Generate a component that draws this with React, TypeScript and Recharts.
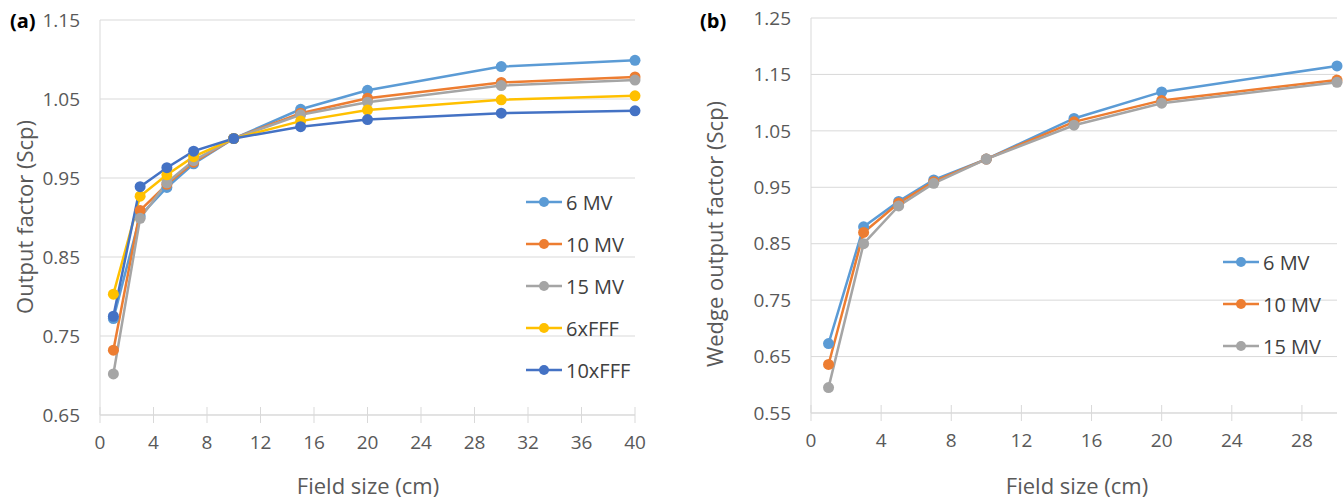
import React from 'react';
import { LineChart, Line, XAxis, YAxis, CartesianGrid } from 'recharts';

// panel (a): output factor vs field size
const fieldSizesA = [1, 3, 5, 7, 10, 15, 20, 30, 40];
const mv6A = [0.772, 0.902, 0.938, 0.968, 1.0, 1.037, 1.061, 1.091, 1.099];
const mv10A = [0.732, 0.909, 0.942, 0.970, 1.0, 1.032, 1.051, 1.071, 1.078];
const mv15A = [0.702, 0.899, 0.944, 0.972, 1.0, 1.030, 1.046, 1.067, 1.074];
const fff6A = [0.803, 0.927, 0.954, 0.977, 1.0, 1.022, 1.036, 1.049, 1.054];
const fff10A = [0.775, 0.939, 0.963, 0.984, 1.0, 1.015, 1.024, 1.032, 1.035];
const xTicksA = [0, 4, 8, 12, 16, 20, 24, 28, 32, 36, 40];
const yTicksA = [0.65, 0.75, 0.85, 0.95, 1.05, 1.15];

// panel (b): wedge output factor vs field size
const fieldSizesB = [1, 3, 5, 7, 10, 15, 20, 30];
const mv6B = [0.673, 0.880, 0.925, 0.963, 1.0, 1.072, 1.119, 1.165];
const mv10B = [0.636, 0.870, 0.922, 0.960, 1.0, 1.066, 1.104, 1.140];
const mv15B = [0.595, 0.850, 0.917, 0.957, 1.0, 1.060, 1.099, 1.136];
const xTicksB = [0, 4, 8, 12, 16, 20, 24, 28];
const yTicksB = [0.55, 0.65, 0.75, 0.85, 0.95, 1.05, 1.15, 1.25];

const seriesA = [
  { key: 'mv6', name: '6 MV', color: '#5B9BD5' },
  { key: 'mv10', name: '10 MV', color: '#ED7D31' },
  { key: 'mv15', name: '15 MV', color: '#A5A5A5' },
  { key: 'fff6', name: '6xFFF', color: '#FFC000' },
  { key: 'fff10', name: '10xFFF', color: '#4472C4' },
];
const seriesB = seriesA.slice(0, 3);

const dataA = fieldSizesA.map((x, i) => ({
  x,
  mv6: mv6A[i],
  mv10: mv10A[i],
  mv15: mv15A[i],
  fff6: fff6A[i],
  fff10: fff10A[i],
}));
const dataB = fieldSizesB.map((x, i) => ({ x, mv6: mv6B[i], mv10: mv10B[i], mv15: mv15B[i] }));

const FONT = '"Open Sans", "Noto Sans", sans-serif';
const GRID = '#d9d9d9';
const TXT = '#595959';

const XTick = (props: any) => {
  const { x, y, payload } = props;
  return (
    <g>
      <line x1={x} x2={x} y1={y - 8} y2={y + 8} stroke={GRID} strokeWidth={1} />
      <text x={x} y={y + 27} textAnchor="middle" dominantBaseline="central" fill={TXT} fontSize={19} fontFamily={FONT}>
        {payload.value}
      </text>
    </g>
  );
};

const fmt = (v: number) => v.toFixed(2);

function LegendBox({ items, left, top }: { items: typeof seriesA; left: number; top: number }) {
  return (
    <div style={{ position: 'absolute', left, top }}>
      {items.map((s) => (
        <div key={s.key} style={{ display: 'flex', alignItems: 'center', height: 42 }}>
          <svg width={38} height={14}>
            <line x1={1} x2={37} y1={7} y2={7} stroke={s.color} strokeWidth={2.5} />
            <circle cx={19} cy={7} r={5} fill={s.color} />
          </svg>
          <span style={{ marginLeft: 3, fontSize: 20, color: '#404040', fontFamily: FONT }}>{s.name}</span>
        </div>
      ))}
    </div>
  );
}

function Panel({ data, series, xTicks, yTicks, xDomain, yDomain, width, margin, yWidth }: any) {
  return (
    <LineChart width={width} height={502} data={data} margin={margin}>
      <CartesianGrid vertical={false} stroke={GRID} />
      <XAxis
        type="number"
        dataKey="x"
        domain={xDomain}
        ticks={xTicks}
        height={60}
        tickSize={0}
        tickMargin={0}
        axisLine={{ stroke: GRID }}
        tick={<XTick />}
        interval={0}
      />
      <YAxis
        type="number"
        domain={yDomain}
        ticks={yTicks}
        width={yWidth}
        tickSize={0}
        tickMargin={20}
        tickLine={false}
        axisLine={{ stroke: GRID }}
        tickFormatter={fmt}
        tick={{ fill: TXT, fontSize: 19, fontFamily: FONT }}
        interval={0}
      />
      {series.map((s: any) => (
        <Line
          key={s.key}
          type="linear"
          dataKey={s.key}
          name={s.name}
          stroke={s.color}
          strokeWidth={2.5}
          dot={{ r: 5.5, fill: s.color, stroke: s.color, strokeWidth: 0 }}
          isAnimationActive={false}
        />
      ))}
    </LineChart>
  );
}

export default function App() {
  return (
    <div style={{ position: 'absolute', left: 0, top: 0, width: 1343, height: 502, background: '#fff', fontFamily: FONT }}>
      <div style={{ position: 'absolute', left: 0, top: 0 }}>
        <Panel
          data={dataA}
          series={seriesA}
          xTicks={xTicksA}
          yTicks={yTicksA}
          xDomain={[0, 40]}
          yDomain={[0.65, 1.15]}
          width={680}
          margin={{ top: 20, right: 45, bottom: 27, left: 40 }}
          yWidth={60}
        />
      </div>
      <div style={{ position: 'absolute', left: 690, top: 0 }}>
        <Panel
          data={dataB}
          series={seriesB}
          xTicks={xTicksB}
          yTicks={yTicksB}
          xDomain={[0, 30]}
          yDomain={[0.55, 1.25]}
          width={653}
          margin={{ top: 18, right: 6, bottom: 29, left: 51 }}
          yWidth={70}
        />
      </div>

      <LegendBox items={seriesA} left={525} top={181} />
      <LegendBox items={seriesB} left={1222} top={241} />

      <div style={{ position: 'absolute', left: 10, top: 7, fontWeight: 700, fontSize: 20, color: '#000', fontFamily: '"Open Sans", sans-serif' }}>(a)</div>
      <div style={{ position: 'absolute', left: 700, top: 7, fontWeight: 700, fontSize: 20, color: '#000', fontFamily: '"Open Sans", sans-serif' }}>(b)</div>

      <div style={{ position: 'absolute', left: 368, top: 485, transform: 'translate(-50%, -50%)', fontSize: 22, color: TXT, whiteSpace: 'nowrap' }}>
        Field size (cm)
      </div>
      <div style={{ position: 'absolute', left: 1077, top: 485, transform: 'translate(-50%, -50%)', fontSize: 22, color: TXT, whiteSpace: 'nowrap' }}>
        Field size (cm)
      </div>
      <div style={{ position: 'absolute', left: 24, top: 217, transform: 'translate(-50%, -50%) rotate(-90deg)', fontSize: 22, color: TXT, whiteSpace: 'nowrap' }}>
        Output factor (Scp)
      </div>
      <div style={{ position: 'absolute', left: 714, top: 234, transform: 'translate(-50%, -50%) rotate(-90deg)', fontSize: 22, color: TXT, whiteSpace: 'nowrap' }}>
        Wedge output factor (Scp)
      </div>
    </div>
  );
}
